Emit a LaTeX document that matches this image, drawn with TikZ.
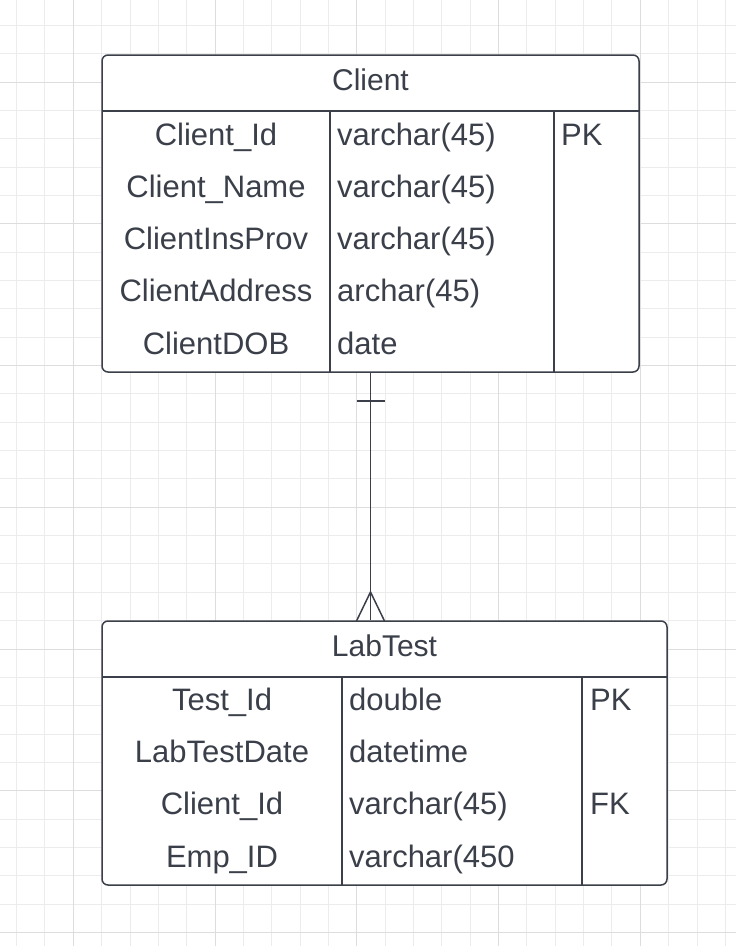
\documentclass[tikz,border=0pt]{standalone}
\usepackage{fontspec}
\setmainfont{Liberation Sans}
\newlength{\du}
\setlength{\du}{1pt}
\definecolor{inkcolor}{rgb}{0.227,0.247,0.286}
\definecolor{minorgrid}{rgb}{0.925,0.925,0.925}
\definecolor{majorgrid}{rgb}{0.865,0.865,0.865}
\tikzset{
  entity/.style={draw=inkcolor, line width=1.5\du, rounded corners=6\du, fill=white, inner sep=0pt},
  tableline/.style={draw=inkcolor, line width=1.5\du},
  relation/.style={draw=inkcolor, line width=1.5\du},
  cell/.style={text=inkcolor, font=\fontsize{31}{36}\selectfont, inner sep=0pt, text height=22\du, text depth=0pt},
  title/.style={cell, font=\fontsize{30}{36}\selectfont},
}

\begin{document}
\begin{tikzpicture}
\pgftransformxscale{1.000000}
\pgftransformyscale{-1.000000}
\useasboundingbox (0\du,0\du) rectangle (736\du,946\du);
\fill[white] (0\du,0\du) rectangle (736\du,946\du);
% grid
\foreach \k [evaluate=\k as \gx using 16.6+28.35*\k] in {0,...,25}
  \draw[minorgrid, line width=1\du] (\gx\du,0\du) -- (\gx\du,946\du);
\foreach \k [evaluate=\k as \gy using 25.3+28.35*\k] in {0,...,32}
  \draw[minorgrid, line width=1\du] (0\du,\gy\du) -- (736\du,\gy\du);
\foreach \k [evaluate=\k as \gx using 16.6+28.35*\k] in {2,7,12,17,22}
  \draw[majorgrid, line width=1\du] (\gx\du,0\du) -- (\gx\du,946\du);
\foreach \k [evaluate=\k as \gy using 25.3+28.35*\k] in {2,7,12,17,22,27,32}
  \draw[majorgrid, line width=1\du] (0\du,\gy\du) -- (736\du,\gy\du);
% Client
\node[entity, minimum width=537\du, minimum height=317\du] (client) at (370.5\du,213.5\du) {};
\draw[tableline] (102\du,111\du) -- (639\du,111\du);
\draw[tableline] (330\du,111\du) -- (330\du,372\du);
\draw[tableline] (554\du,111\du) -- (554\du,372\du);
\node[title] (clienttitle) at (370.5\du,79\du) {Client};
\node[cell] (clientid) at (216\du,134\du) {Client\_Id};
\node[cell, anchor=west] (clientidtype) at (337\du,134\du) {varchar(45)};
\node[cell, anchor=west] (clientidkey) at (561\du,134\du) {PK};
\node[cell] (clientname) at (216\du,186\du) {Client\_Name};
\node[cell, anchor=west] (clientnametype) at (337\du,186\du) {varchar(45)};
\node[cell] (clientins) at (216\du,238\du) {ClientInsProv};
\node[cell, anchor=west] (clientinstype) at (337\du,238\du) {varchar(45)};
\node[cell] (clientaddr) at (216\du,290\du) {ClientAddress};
\node[cell, anchor=west] (clientaddrtype) at (337\du,290\du) {archar(45)};
\node[cell] (clientdob) at (216\du,343\du) {ClientDOB};
\node[cell, anchor=west] (clientdobtype) at (337\du,343\du) {date};
% LabTest
\node[entity, minimum width=565\du, minimum height=264\du] (labtest) at (384.5\du,753\du) {};
\draw[tableline] (102\du,677\du) -- (667\du,677\du);
\draw[tableline] (342\du,677\du) -- (342\du,885\du);
\draw[tableline] (582\du,677\du) -- (582\du,885\du);
\node[title] (labtesttitle) at (384.5\du,645\du) {LabTest};
\node[cell] (testid) at (222\du,699\du) {Test\_Id};
\node[cell, anchor=west] (testidtype) at (349\du,699\du) {double};
\node[cell, anchor=west] (testidkey) at (590\du,699\du) {PK};
\node[cell] (testdate) at (222\du,751\du) {LabTestDate};
\node[cell, anchor=west] (testdatetype) at (349\du,751\du) {datetime};
\node[cell] (testclient) at (222\du,803\du) {Client\_Id};
\node[cell, anchor=west] (testclienttype) at (349\du,803\du) {varchar(45)};
\node[cell, anchor=west] (testclientkey) at (590\du,803\du) {FK};
\node[cell] (testemp) at (222\du,856\du) {Emp\_ID};
\node[cell, anchor=west] (testemptype) at (349\du,856\du) {varchar(450};
% relation Client 1 -- n LabTest
\coordinate (one) at (370.5\du,401\du);
\coordinate (toe) at (370.5\du,592\du);
\coordinate (footleft) at (356.5\du,621\du);
\coordinate (footright) at (384.5\du,621\du);
\draw[relation] (client.south) -- (client.south |- labtest.north);
\draw[relation] (one) ++(-14\du,0\du) -- ++(28\du,0\du);
\draw[relation] (footleft) -- (toe) -- (footright);
\end{tikzpicture}
\end{document}
